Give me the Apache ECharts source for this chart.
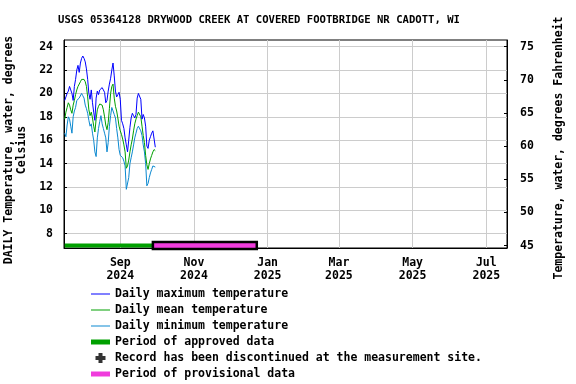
<!DOCTYPE html>
<html><head><meta charset="utf-8">
<script src="https://cdn.jsdelivr.net/npm/echarts@6/dist/echarts.min.js"></script>
<style>html,body{margin:0;padding:0;background:#fff}#c{width:576px;height:384px}</style>
</head><body><div id="c"></div>
<script>
const titleText = 'USGS 05364128 DRYWOOD CREEK AT COVERED FOOTBRIDGE NR CADOTT, WI';
const firstDay = [2024, 6, 17]; // 2024-07-17 (UTC), one value per day
const dailyMax = [19.4,19.7,20.0,20.2,20.6,20.3,20.0,19.4,20.6,21.2,
  22.0,22.4,21.8,22.6,23.0,23.2,23.0,22.7,22.1,21.2,
  20.0,19.5,20.3,19.2,18.4,17.7,19.6,20.2,19.9,20.3,
  20.4,20.5,20.3,20.1,19.2,19.4,20.2,20.8,21.3,22.0,
  22.6,21.5,20.2,19.7,19.9,20.1,19.5,17.7,17.4,17.0,
  16.2,15.6,15.0,16.0,17.1,17.9,18.3,18.1,17.9,18.2,
  19.6,20.0,19.9,19.5,17.8,18.2,17.9,17.2,15.5,15.3,
  16.0,16.3,16.6,16.8,16.7,15.4];
const dailyMean = [17.8,18.4,18.8,19.2,19.0,18.6,18.3,19.0,19.4,19.9,
  20.3,20.6,20.7,21.0,21.2,21.3,21.2,21.0,20.6,19.7,
  18.6,18.1,18.4,17.9,17.2,16.7,17.8,18.6,18.9,19.1,
  19.2,19.0,18.6,18.0,17.3,16.9,17.5,18.7,20.0,20.6,
  20.8,19.6,18.9,18.5,17.9,17.2,16.8,16.5,16.1,15.6,
  15.0,13.6,13.8,14.3,15.0,15.6,16.1,16.8,17.4,17.8,
  18.1,18.4,18.3,18.0,17.2,16.4,15.8,14.7,13.9,13.5,
  14.0,14.4,14.7,15.0,15.2,15.1];
const dailyMin = [16.6,16.3,17.3,18.0,17.8,17.2,16.6,18.0,18.5,18.8,
  19.4,19.4,19.6,19.7,20.0,19.8,19.6,19.0,18.7,18.3,
  17.7,17.2,17.4,16.6,16.0,15.0,14.6,16.2,17.0,17.6,
  18.1,17.4,17.0,16.6,16.2,15.0,15.8,17.2,18.1,18.8,
  18.5,18.2,17.9,17.0,16.2,15.2,14.7,14.6,14.5,14.2,
  13.8,11.8,11.9,12.8,14.0,14.5,15.0,15.6,16.2,16.6,
  17.0,17.2,17.1,16.8,16.4,15.6,15.0,14.0,12.1,12.3,
  12.8,13.2,13.5,13.8,13.9,13.7];
const approvedPeriod = ['2024-07-17', '2024-09-28'];
const provisionalPeriod = ['2024-09-28', '2024-12-23'];
const periodLevel = 7.0;
const xRange = ['2024-07-16T10:00:00Z', '2025-07-18T03:00:00Z'];
const xTickDates = ['2024-09-01','2024-11-01','2025-01-01','2025-03-01','2025-05-01','2025-07-01'];
const monthNames = ['Jan','Feb','Mar','Apr','May','Jun','Jul','Aug','Sep','Oct','Nov','Dec'];
const leftTicks = [8,10,12,14,16,18,20,22,24];
const leftRange = [6.78, 24.57];
const rightTicks = [45,50,55,60,65,70,75];
const rightRange = [44.65, 76.0];
const legendNames = ['Daily maximum temperature','Daily mean temperature','Daily minimum temperature',
  'Period of approved data','Record has been discontinued at the measurement site.','Period of provisional data'];

const days = dailyMax.map((_, i) => Date.UTC(firstDay[0], firstDay[1], firstDay[2] + i));
const pairs = arr => arr.map((v, i) => [days[i], v]);
const t = s => Date.parse(s);

const FONT = 'DejaVu Sans Mono';
const txt = {color:'#000', fontFamily:FONT, fontWeight:'bold', fontSize:11.5};
const crossPath = 'path://M3,0H7V3H10V7H7V10H3V7H0V3H3Z';
const thinIcon = 'path://M0,0H19V1H0Z';
const thickIcon = 'path://M0,0H19V5H0Z';

const chart = echarts.init(document.getElementById('c'), null, {renderer:'canvas'});
chart.setOption({
  animation:false,
  backgroundColor:'#fff',
  title:{text:titleText, left:254, top:10, textAlign:'center',
    textStyle:{color:'#000', fontFamily:FONT, fontWeight:'bold', fontSize:10.6}},
  grid:{left:64, right:69, top:40, bottom:136, containLabel:false, outerBoundsMode:'none',
    show:true, borderColor:'#000', borderWidth:1, backgroundColor:'transparent'},
  legend:{orient:'vertical', left:91, top:286, padding:0, height:110, itemWidth:19, itemHeight:10, itemGap:0,
    textStyle:Object.assign({lineHeight:16}, txt), selectedMode:false,
    itemStyle:{borderWidth:0},
    data:[
      {name:legendNames[0], icon:thinIcon},
      {name:legendNames[1], icon:thinIcon},
      {name:legendNames[2], icon:thinIcon},
      {name:legendNames[3], icon:thickIcon},
      {name:legendNames[4], icon:crossPath},
      {name:legendNames[5], icon:thickIcon}
    ]},
  xAxis:{type:'value', min:t(xRange[0]), max:t(xRange[1]),
    axisLine:{lineStyle:{color:'#000'}},
    axisTick:{show:false, customValues:xTickDates.map(t)},
    splitLine:{show:true, lineStyle:{color:'#cccccc', width:1}},
    axisLabel:Object.assign({customValues:xTickDates.map(t), margin:9, lineHeight:13,
      formatter:v => { const d = new Date(v); return monthNames[d.getUTCMonth()] + '\n' + d.getUTCFullYear(); }}, txt)},
  yAxis:[
    {type:'value', position:'left', min:leftRange[0], max:leftRange[1],
      name:'DAILY Temperature, water, degrees\nCelsius', nameLocation:'middle', nameRotate:90, nameGap:26,
      nameTextStyle:Object.assign({lineHeight:13, align:'center', padding:[0,12,0,0]}, txt),
      axisLine:{show:true, lineStyle:{color:'#000'}},
      axisTick:{show:true, inside:true, length:3, customValues:leftTicks, lineStyle:{color:'#000'}},
      splitLine:{show:true, lineStyle:{color:'#cccccc', width:1}},
      axisLabel:Object.assign({customValues:leftTicks, margin:11}, txt)},
    {type:'value', position:'right', min:rightRange[0], max:rightRange[1],
      name:'Temperature, water, degrees Fahrenheit', nameLocation:'middle', nameRotate:90, nameGap:46,
      nameTextStyle:Object.assign({padding:[0,8,0,0]}, txt),
      axisLine:{show:true, lineStyle:{color:'#000'}},
      axisTick:{show:true, inside:true, length:3, customValues:rightTicks, lineStyle:{color:'#000'}},
      splitLine:{show:false},
      axisLabel:Object.assign({customValues:rightTicks, margin:13}, txt)}
  ],
  series:[
    {type:'line', name:legendNames[0], data:pairs(dailyMax), symbol:'none', lineStyle:{width:1, color:'#0000ff'}, itemStyle:{color:'#0000ff'}, z:4},
    {type:'line', name:legendNames[1], data:pairs(dailyMean), symbol:'none', lineStyle:{width:1, color:'#00a000'}, itemStyle:{color:'#00a000'}, z:3},
    {type:'line', name:legendNames[2], data:pairs(dailyMin), symbol:'none', lineStyle:{width:1, color:'#0a88d0'}, itemStyle:{color:'#0a88d0'}, z:2},
    {type:'line', name:legendNames[3], data:[[t(approvedPeriod[0]), periodLevel],[t(approvedPeriod[1]), periodLevel]],
      symbol:'none', clip:false, lineStyle:{width:4, color:'#00a000', cap:'butt'}, itemStyle:{color:'#00a000'}, z:5},
    {type:'scatter', name:legendNames[4], data:[], symbol:crossPath, itemStyle:{color:'#000'}},
    {type:'line', name:legendNames[5], data:[], symbol:'none', lineStyle:{width:5, color:'#f03cdc'}, itemStyle:{color:'#f03cdc'}},
    {type:'custom', name:'provisionalBar', clip:false, z:6,
      data:[[t(provisionalPeriod[0]), t(provisionalPeriod[1]), periodLevel]],
      encode:{x:[0,1], y:2},
      renderItem:(params, api) => {
        const s = api.coord([api.value(0), api.value(2)]);
        const e = api.coord([api.value(1), api.value(2)]);
        return {type:'rect', shape:{x:s[0], y:s[1]-3.5, width:e[0]-s[0], height:7},
          style:{fill:'#f03cdc', stroke:'#000', lineWidth:2.5}};
      }}
  ]
});
</script></body></html>
